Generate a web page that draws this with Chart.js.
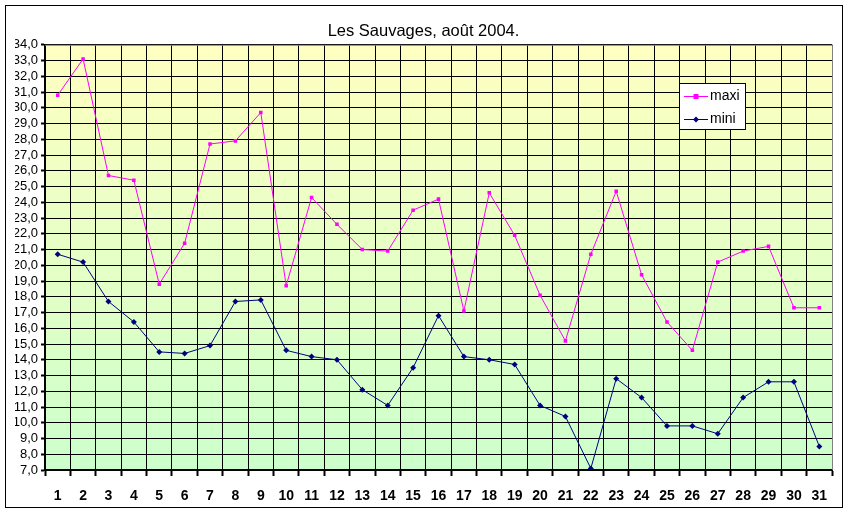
<!DOCTYPE html>
<html lang="fr">
<head>
<meta charset="UTF-8">
<title>Les Sauvages, août 2004.</title>
<script src="https://cdn.jsdelivr.net/npm/chart.js"></script>
<style>
  body { margin: 0; background: #fff; font-family: Arial, "Liberation Sans", sans-serif; }
  #wrap { width: 849px; height: 515px; }
</style>
</head>
<body>
<div id="wrap"><canvas id="chartTemp" width="849" height="515"></canvas></div>
<script>
// jours du mois
const days = ['1','2','3','4','5','6','7','8','9','10','11','12','13','14','15','16',
              '17','18','19','20','21','22','23','24','25','26','27','28','29','30','31'];
const maxi = [30.8, 33.1, 25.7, 25.4, 18.8, 21.4, 27.7, 27.9, 29.7, 18.7, 24.3, 22.6, 21.0, 20.9, 23.5, 24.2,
              17.1, 24.6, 21.9, 18.1, 15.2, 20.7, 24.7, 19.4, 16.4, 14.6, 20.2, 20.9, 21.2, 17.3, 17.3];
const mini = [20.7, 20.2, 17.7, 16.4, 14.5, 14.4, 14.9, 17.7, 17.8, 14.6, 14.2, 14.0, 12.1, 11.1, 13.5, 16.8,
              14.2, 14.0, 13.7, 11.1, 10.4, 7.1, 12.8, 11.6, 9.8, 9.8, 9.3, 11.6, 12.6, 12.6, 8.5];
const yMin = 7, yMax = 34;

const FONT = 'Arial, "Liberation Sans", sans-serif';

// fond dégradé + cadres + légende
const decor = {
  id: 'decor',
  beforeDraw(chart) {
    const { ctx, chartArea: a } = chart;
    const g = ctx.createLinearGradient(0, a.top, 0, a.bottom);
    g.addColorStop(0, '#ffffc0');
    g.addColorStop(1, '#ccffcc');
    ctx.save();
    ctx.fillStyle = g;
    ctx.fillRect(a.left, a.top, a.right - a.left, a.bottom - a.top);
    ctx.restore();
  },
  afterDraw(chart) {
    const { ctx, chartArea: a } = chart;
    ctx.save();
    // bord haut/droit gris de la zone de traçage
    ctx.strokeStyle = '#808080';
    ctx.lineWidth = 1;
    ctx.beginPath();
    ctx.moveTo(a.left, a.top + 0.5);
    ctx.lineTo(a.right + 0.5, a.top + 0.5);
    ctx.lineTo(a.right + 0.5, a.bottom);
    ctx.stroke();
    // cadre extérieur
    ctx.strokeStyle = '#000';
    ctx.strokeRect(5.5, 5.5, 837, 502);

    // légende
    const lx = 679, ly = 83, lw = 66, lh = 46;
    ctx.fillStyle = '#fff';
    ctx.fillRect(lx, ly, lw, lh);
    ctx.strokeRect(lx + 0.5, ly + 0.5, lw, lh);
    const items = chart.data.datasets;
    items.forEach((ds, i) => {
      const y = ly + 13.5 + i * 23;
      ctx.strokeStyle = ds.borderColor;
      ctx.lineWidth = 1;
      ctx.beginPath();
      ctx.moveTo(lx + 5, y);
      ctx.lineTo(lx + 29, y);
      ctx.stroke();
      ctx.fillStyle = ds.borderColor;
      if (ds.pointStyle === 'rect') {
        ctx.fillRect(lx + 14.5, y - 2.5, 5, 5);
      } else {
        ctx.beginPath();
        ctx.moveTo(lx + 17, y - 3); ctx.lineTo(lx + 20, y);
        ctx.lineTo(lx + 17, y + 3); ctx.lineTo(lx + 14, y);
        ctx.closePath(); ctx.fill();
      }
      ctx.fillStyle = '#000';
      ctx.font = '14px ' + FONT;
      ctx.textBaseline = 'middle';
      ctx.textAlign = 'left';
      ctx.fillText(ds.label, lx + 31, y);
    });
    ctx.restore();
  }
};

new Chart(document.getElementById('chartTemp'), {
  type: 'line',
  data: {
    labels: days,
    datasets: [
      {
        label: 'maxi',
        data: maxi,
        borderColor: '#ff00ff',
        backgroundColor: '#ff00ff',
        borderWidth: 1,
        pointStyle: 'rect',
        pointRadius: 2.5,
        pointBorderWidth: 0,
        tension: 0
      },
      {
        label: 'mini',
        data: mini,
        borderColor: '#000080',
        backgroundColor: '#000080',
        borderWidth: 1,
        pointStyle: 'rectRot',
        pointRadius: 3,
        pointBorderWidth: 0,
        tension: 0
      }
    ]
  },
  options: {
    responsive: false,
    animation: false,
    layout: { padding: { top: 5, right: 17, left: 15, bottom: 0 } },
    plugins: {
      legend: { display: false },
      tooltip: { enabled: false },
      title: {
        display: true,
        text: 'Les Sauvages, août 2004.',
        color: '#000',
        font: { family: FONT, size: 16.5, weight: 'normal', lineHeight: 1.2 },
        padding: { top: 17, bottom: 3 }
      }
    },
    scales: {
      x: {
        offset: true,
        grid: { offset: true, color: '#000', lineWidth: 1, tickLength: 6, tickColor: '#000', tickWidth: 2 },
        border: { color: '#000', width: 2 },
        ticks: { color: '#000', font: { family: FONT, size: 14, weight: 'bold' }, padding: 12, maxRotation: 0, autoSkip: false },
        afterFit(scale) { scale.height = 45; }
      },
      y: {
        min: yMin,
        max: yMax,
        grid: { color: '#000', lineWidth: 1, tickLength: 4, tickColor: '#000', tickWidth: 2 },
        border: { color: '#000', width: 2 },
        ticks: {
          stepSize: 1,
          autoSkip: false,
          color: '#000',
          padding: 3,
          font: { family: FONT, size: 13 },
          callback: v => v.toFixed(1).replace('.', ',')
        },
        afterFit(scale) { scale.width = 30; }
      }
    }
  },
  plugins: [decor]
});
</script>
</body>
</html>
